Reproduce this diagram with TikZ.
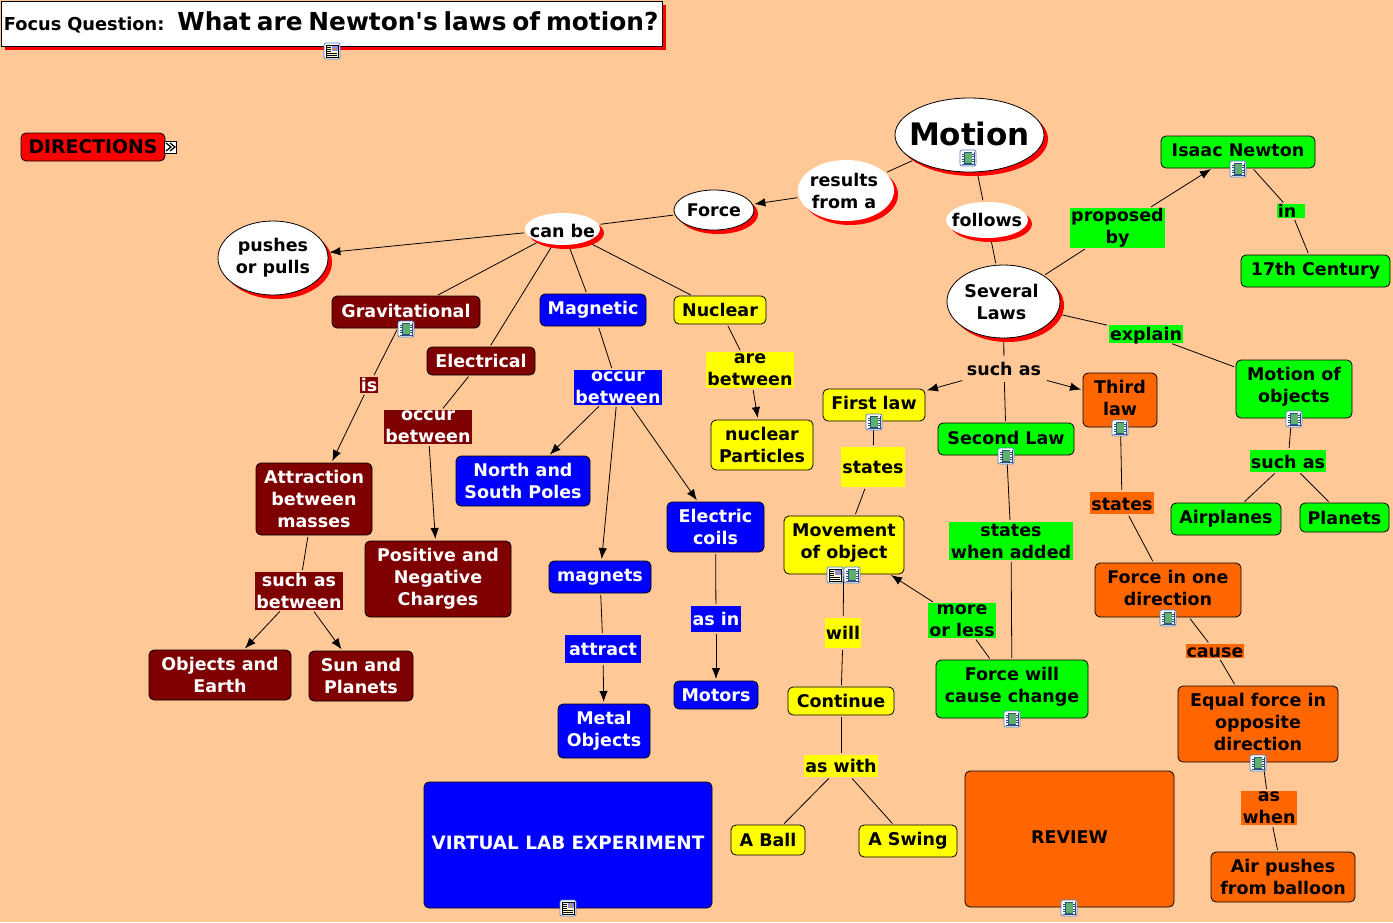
\documentclass[tikz,border=0pt]{standalone}
\usepackage{fontspec}
\setmainfont{DejaVu Sans}
\newfontfamily\plainfam{DejaVu Sans}
\usetikzlibrary{arrows.meta,shapes.geometric,shadows,backgrounds}
\definecolor{bgc}{HTML}{FFC896}
\definecolor{mar}{HTML}{7F0000}
\definecolor{blu}{HTML}{0000FF}
\definecolor{yel}{HTML}{FFFF00}
\definecolor{grn}{HTML}{00FF00}
\definecolor{org}{HTML}{FF6600}
\definecolor{icb}{HTML}{4A7FC0}
\definecolor{icf}{HTML}{2F4F7F}
\definecolor{icg}{HTML}{5FAF6F}
\newcommand\upb{\par\vspace{4pt}}
\newcommand\ups[1]{\leavevmode\vrule depth #1 height 0pt width 0pt\relax}
\newcommand\dnb{\leavevmode\vrule height 16pt width 0pt\relax}
\newcommand\dropb[2]{\smash{\raisebox{#1}{#2}}}
\tikzset{
 x=1pt,y=-1pt,
 base/.style={font=\bfseries\fontsize{17.5}{22}\selectfont,align=center,inner sep=0pt,outer sep=0pt,line width=.8pt},
 cbox/.style={base,rectangle,rounded corners=5pt,draw=black},
 lbox/.style={base,rectangle},
 mc/.style={cbox,fill=mar,text=white},
 bc/.style={cbox,fill=blu,text=white},
 yc/.style={cbox,fill=yel,text=black},
 gc/.style={cbox,fill=grn,text=black},
 oc/.style={cbox,fill=org,text=black},
 ml/.style={lbox,fill=mar,text=white},
 bl/.style={lbox,fill=blu,text=white},
 yl/.style={lbox,fill=yel,text=black},
 gl/.style={lbox,fill=grn,text=black},
 ol/.style={lbox,fill=org,text=black},
 ell/.style={base,ellipse,fill=white,drop shadow={shadow xshift=4pt,shadow yshift=-4pt,fill=red,opacity=1}},
 ellb/.style={ell,draw=black},
 eltxt/.style={base,text=black},
 con/.style={line width=.8pt,draw=black,shorten <=2pt,shorten >=2pt},
 arr/.style={con,-{Latex[length=11pt,width=8.5pt]}},
}
\newcommand\nd[7][]{\node[#2,minimum width={(#5-#3)*1pt},minimum height={(#6-#4)*1pt},#1] (#7) at ({(#3+#5)/2},{(#4+#6)/2})}
\newcommand\filmicon[2]{\begin{scope}[shift={(#1,#2)}]
 \draw[icb,fill=white,rounded corners=2pt,line width=.7pt] (-8,-8) rectangle (8,8);
 \fill[icf] (-6.5,-6.5) rectangle (6.5,6.5);
 \fill[icg] (-3.5,-5) rectangle (3.5,5);
 \foreach \yy in {-5,-2.5,0,2.5,5}{\fill[white] (-5.6,\yy-.6) rectangle (-4.4,\yy+.6);\fill[white] (4.4,\yy-.6) rectangle (5.6,\yy+.6);}
\end{scope}}
\newcommand\docicon[2]{\begin{scope}[shift={(#1,#2)}]
 \draw[icb,fill=white,rounded corners=2pt,line width=.7pt] (-8,-8) rectangle (8,8);
 \draw[black,fill=yellow!20,line width=.5pt] (-6,-6) rectangle (6,6);
 \fill[blue!45] (0,-5.5) rectangle (5.5,-.5);
 \fill[orange] (2,-3.5) rectangle (4,-1.5);
 \foreach \yy in {-4,-2,0}{\draw[black,line width=.6pt] (-5,\yy) -- (-1,\yy);}
 \foreach \yy in {2,4}{\draw[black,line width=.6pt] (-5,\yy) -- (5,\yy);}
\end{scope}}
\begin{document}
\begin{tikzpicture}
\useasboundingbox (0,0) rectangle (1393,922);
\begin{scope}[on background layer]
\fill[bgc] (0,0) rectangle (1393,922);
\end{scope}
% title and directions
\node[base,rectangle,draw=black,fill=white,minimum width=661pt,minimum height=45pt,text width=655pt,align=left,
 drop shadow={shadow xshift=4pt,shadow yshift=-4pt,fill=red,opacity=1}] (title) at (331.5,23.5)
 {{\fontsize{17.8}{18}\selectfont Focus Question:}\hspace{13pt}{\plainfam\bfseries\fontsize{24.8}{24}\selectfont What are Newton's laws of motion?}\ups{4pt}};
\nd{cbox,fill=red,text=black,font=\bfseries\fontsize{18.8}{22}\selectfont}{21}{133}{165}{161}{dirs}{DIRECTIONS};
\node[base,rectangle,draw=black,fill=white,minimum width=12pt,minimum height=12pt] (dirarrow) at (170,147) {};
\draw[line width=1.2pt] ([shift={(-4,-4)}]dirarrow.center) -- ([shift={(1,0)}]dirarrow.center) -- ([shift={(-4,4)}]dirarrow.center);
\draw[line width=1.2pt] ([shift={(0,-4)}]dirarrow.center) -- ([shift={(5,0)}]dirarrow.center) -- ([shift={(0,4)}]dirarrow.center);
% ellipses
\nd[label={[eltxt,font=\bfseries\fontsize{31}{30}\selectfont,yshift=1pt]center:{Motion}}]{ellb}{895}{98}{1044}{172}{motion}{};
\nd[label={[eltxt,xshift=-2pt]center:{results\\from a}}]{ell}{798}{160}{894}{221}{results}{};
\nd[label={[eltxt]center:{Force}}]{ellb}{674}{190}{754}{230}{force}{};
\nd[label={[eltxt,yshift=-2pt]center:{can be}}]{ell}{525}{213}{600}{245}{canbe}{};
\nd[label={[eltxt]center:{follows}}]{ell}{946}{202}{1028}{238}{follows}{};
\nd[label={[eltxt]center:{pushes\\or pulls}}]{ellb}{218}{221}{328}{295}{pushes}{};
\nd[label={[eltxt,xshift=-2pt]center:{Several\\Laws}}]{ellb}{947}{265}{1060}{338}{several}{};
% force branch
\nd{mc}{332}{296}{480}{328}{grav}{Gravitational\ups{2pt}};
\nd{mc}{427}{347}{535}{375}{elec}{Electrical};
\nd{bc}{540}{294}{646}{326}{magn}{Magnetic};
\nd{yc}{674}{296}{766}{324}{nucl}{Nuclear};
\nd{yl}{706}{352}{794}{388}{arebtw}{are\\between};
\nd{yc}{711}{420}{813}{470}{npart}{nuclear\\Particles};
\nd{bl}{574}{370}{662}{405}{occb}{occur\\between};
\nd{ml}{384}{410}{472}{444}{occm}{occur\\between};
\nd{ml}{360}{377}{378}{393}{isl}{is};
\nd{mc}{256}{463}{372}{535}{attr}{Attraction\\between\\masses};
\nd{ml}{255}{572}{343}{610}{sab}{such as\\between};
\nd{mc}{149}{650}{291}{700}{objs}{Objects and\\Earth};
\nd{mc}{309}{651}{413}{701}{sunp}{Sun and\\Planets};
\nd{mc}{365}{541}{511}{617}{posn}{Positive and\\Negative\\Charges};
\nd{bc}{456}{456}{590}{506}{nsp}{North and\\South Poles};
\nd{bc}{549}{561}{651}{593}{mags}{magnets};
\nd{bl}{565}{635}{641}{663}{attl}{attract};
\nd{bc}{558}{704}{650}{758}{metal}{Metal\\Objects};
\nd{bc}{667}{502}{764}{552}{coils}{Electric\\coils};
\nd{bl}{691}{606}{741}{632}{asin}{as in};
\nd{bc}{674}{681}{758}{709}{motors}{Motors};
\nd{bc,font=\bfseries\fontsize{18.4}{22}\selectfont}{424}{782}{712}{908}{vlab}{VIRTUAL LAB EXPERIMENT\ups{4pt}};
% laws
\nd{yc}{823}{389}{925}{421}{first}{First law\ups{4pt}};
\nd{yl}{841}{447}{905}{487}{sty}{states};
\nd{yc}{784}{516}{904}{574}{move}{Movement\\of object\upb};
\nd{yl}{825}{618}{861}{648}{will}{will};
\nd{yc}{788}{687}{894}{715}{cont}{Continue};
\nd{yl}{804}{755}{878}{777}{aswith}{as with};
\nd{yc}{731}{825}{805}{855}{ball}{A Ball};
\nd{yc}{859}{825}{957}{857}{swing}{A Swing};
\nd{lbox,fill=bgc,text=black}{963}{358}{1045}{380}{suchas}{such as};
\nd{gc}{938}{423}{1074}{455}{second}{Second Law\ups{3pt}};
\nd{gl}{949}{522}{1073}{560}{stg}{states\\when added};
\nd{gc}{936}{660}{1088}{718}{fwill}{Force will\\cause change\upb};
\nd{gl}{928}{603}{996}{638}{mol}{more\\or less};
\nd{oc}{1083}{373}{1157}{427}{third}{Third\\law\upb};
\nd{ol}{1090}{492}{1154}{514}{sto}{\dnb states};
\nd{oc}{1095}{563}{1241}{617}{fone}{Force in one\\direction\upb};
\nd{ol}{1186}{644}{1244}{658}{cause}{\dropb{-6pt}{cause}};
\nd{oc}{1178}{686}{1338}{762}{equal}{Equal force in\\opposite\\direction\upb};
\nd{ol}{1241}{791}{1297}{825}{aswhen}{as\\when};
\nd{oc}{1211}{852}{1355}{902}{air}{Air pushes\\from balloon};
\nd{oc}{965}{771}{1174}{907}{review}{REVIEW\ups{4pt}};
% right
\nd{gc}{1161}{136}{1315}{168}{newton}{Isaac Newton\ups{4pt}};
\nd{gl}{1070}{208}{1165}{248}{propby}{proposed\\by};
\nd{gl}{1277}{204}{1305}{218}{inl}{in\hspace{8pt}};
\nd{gc}{1241}{255}{1390}{287}{cent}{17th Century};
\nd{gl}{1109}{325}{1183}{343}{expl}{\dropb{-6pt}{explain}};
\nd{gc}{1236}{360}{1352}{418}{mobj}{Motion of\\objects\upb};
\nd{gl}{1250}{450}{1326}{472}{sag}{\dnb such as};
\nd{gc}{1171}{503}{1281}{535}{plane}{Airplanes};
\nd{gc}{1300}{503}{1389}{532}{plan}{Planets};
% connectors
\begin{scope}[on background layer]
\draw[con] (motion) -- (results);
\draw[arr] (results) -- (force);
\draw[con] (force) -- (canbe);
\draw[arr] (canbe) -- (pushes);
\draw[con] (canbe) -- (grav);
\draw[con] (canbe) -- (elec);
\draw[con] (canbe) -- (magn);
\draw[con] (canbe) -- (nucl);
\draw[con] (grav) -- (isl);
\draw[arr] (isl) -- (attr);
\draw[con] (attr) -- (sab);
\draw[arr] (sab) -- (objs);
\draw[arr] (sab) -- (sunp);
\draw[con] (elec) -- (occm);
\draw[arr] (occm) -- (posn);
\draw[con] (magn) -- (occb);
\draw[arr] (occb) -- (nsp);
\draw[arr] (occb) -- (mags);
\draw[arr] (occb) -- (coils);
\draw[con] (mags) -- (attl);
\draw[arr] (attl) -- (metal);
\draw[con] (coils) -- (asin);
\draw[arr] (asin) -- (motors);
\draw[con] (nucl) -- (arebtw);
\draw[arr] (arebtw) -- (npart);
\draw[con] (motion) -- (follows);
\draw[con] (follows) -- (several);
\draw[con] (several) -- (propby);
\draw[arr] (propby) -- (newton);
\draw[con] (newton) -- (inl);
\draw[con] (inl) -- (cent);
\draw[con] (several) -- (expl);
\draw[con] (expl) -- (mobj);
\draw[con] (several) -- (suchas);
\draw[arr] (suchas) -- (first);
\draw[con] (suchas) -- (second);
\draw[arr] (suchas) -- (third);
\draw[con] (first) -- (sty);
\draw[con] (sty) -- (move);
\draw[con] (move) -- (will);
\draw[con] (will) -- (cont);
\draw[con] (cont) -- (aswith);
\draw[con] (aswith) -- (ball);
\draw[con] (aswith) -- (swing);
\draw[con] (second) -- (stg);
\draw[con] (stg) -- (fwill);
\draw[con] (fwill) -- (mol);
\draw[arr] (mol) -- (move);
\draw[con] (third) -- (sto);
\draw[con] (sto) -- (fone);
\draw[con] (fone) -- (cause);
\draw[con] (cause) -- (equal);
\draw[con] (equal) -- (aswhen);
\draw[con] (aswhen) -- (air);
\draw[con] (mobj) -- (sag);
\draw[con] (sag) -- (plane);
\draw[con] (sag) -- (plan);
\end{scope}
% icons
\docicon{332}{51}
\filmicon{968}{158}
\filmicon{406}{329}
\filmicon{874}{422}
\filmicon{1006}{456}
\filmicon{1120}{428}
\filmicon{1294}{419}
\docicon{835}{575}
\filmicon{852}{575}
\filmicon{1012}{719}
\filmicon{1168}{618}
\filmicon{1258}{763}
\filmicon{1238}{169}
\docicon{568}{908}
\filmicon{1069}{908}
\end{tikzpicture}
\end{document}
